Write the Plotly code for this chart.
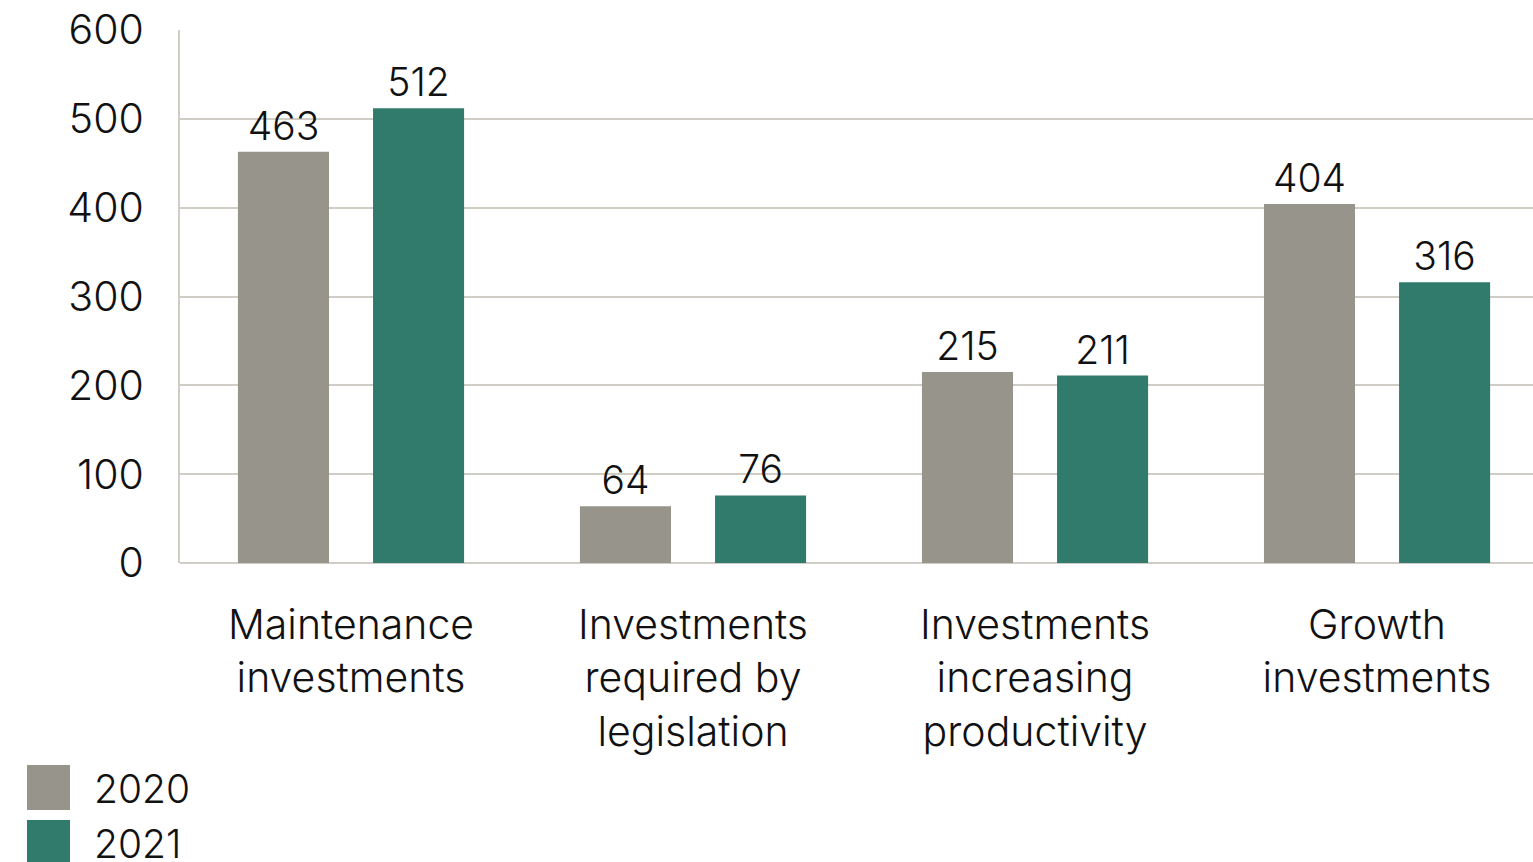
import plotly.graph_objects as go

categories = ["Maintenance<br>investments", "Investments<br>required by<br>legislation",
              "Investments<br>increasing<br>productivity", "Growth<br>investments"]
values_2020 = [463, 64, 215, 404]
values_2021 = [512, 76, 211, 316]
series_names = ["2020", "2021"]
colors = ["#97948B", "#317B6C"]

W, H = 1533, 862
L, R, T, B = 180, 0, 30, 299
FONT = "Inter"

fig = go.Figure()
for name, vals, col in zip(series_names, [values_2020, values_2021], colors):
    fig.add_trace(go.Bar(
        x=categories, y=vals, name=name, marker=dict(color=col, line=dict(width=0)),
        text=[str(v) for v in vals], textposition="outside", cliponaxis=False,
        textfont=dict(size=39, color="#111111", family=FONT, weight=300), showlegend=False,
    ))

pw = W - L - R
ph = H - T - B
def px_x(p):
    return (p - L) / pw
def px_y(p):
    return (H - B - p) / ph

shapes = []
annotations = []
leg_y = [788, 843]
for name, col, cy in zip(series_names, colors, leg_y):
    shapes.append(dict(type="rect", xref="paper", yref="paper",
                       x0=px_x(27), x1=px_x(70), y0=px_y(cy - 23), y1=px_y(cy + 22),
                       fillcolor=col, line=dict(width=0)))
    annotations.append(dict(xref="paper", yref="paper", x=px_x(92), y=px_y(cy),
                            xanchor="left", yanchor="middle", text=name, showarrow=False,
                            font=dict(size=39, color="#111111", family=FONT, weight=300)))

fig.update_layout(
    width=W, height=H, margin=dict(l=L, r=R, t=T, b=B, autoexpand=False),
    paper_bgcolor="white", plot_bgcolor="white",
    barmode="group", bargap=0.21, bargroupgap=0.326,
    font=dict(family=FONT, color="#111111"),
    xaxis=dict(showgrid=False, showline=False, ticks="", range=[-0.5, 3.456],
               tickfont=dict(size=41, family=FONT, weight=300),
               tickangle=0, ticklabelstandoff=34),
    yaxis=dict(range=[0, 600], tickvals=[0, 100, 200, 300, 400, 500, 600],
               showgrid=True, gridcolor="#D0CDC7", gridwidth=1.5,
               showline=True, linecolor="#D0CDC7", linewidth=2,
               zeroline=True, zerolinecolor="#D0CDC7", zerolinewidth=2,
               tickfont=dict(size=41, family=FONT, weight=300), ticklabelstandoff=26, ticks=""),
    shapes=shapes, annotations=annotations,
)

fig.write_html("out.html")
